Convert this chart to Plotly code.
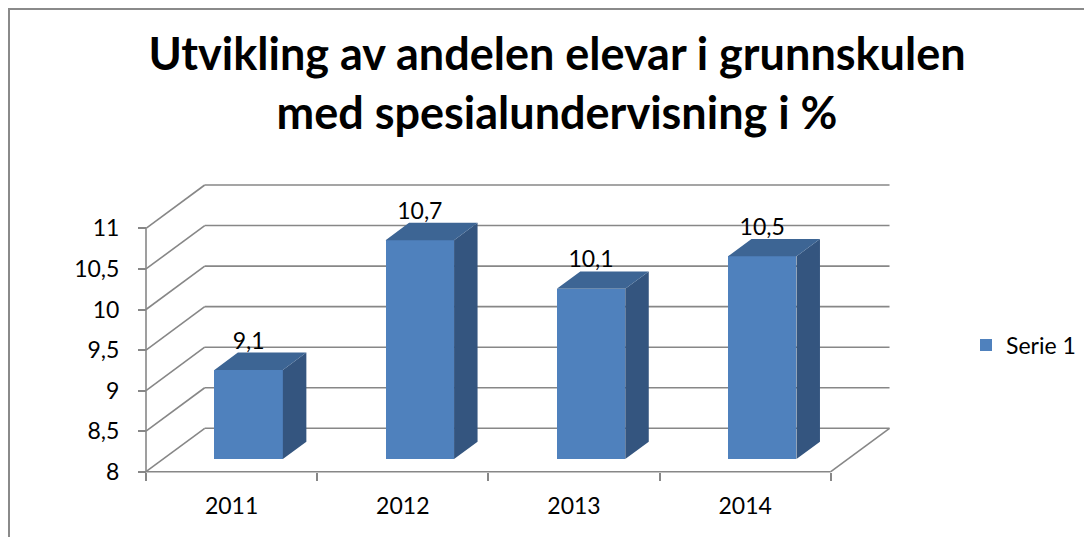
import plotly.graph_objects as go

# ---- data ----
categories = ["2011", "2012", "2013", "2014"]
values = [9.1, 10.7, 10.1, 10.5]
series_name = "Serie 1"
y_ticks = [8, 8.5, 9, 9.5, 10, 10.5, 11]
title_lines = ["Utvikling av andelen elevar i grunnskulen", "med spesialundervisning i %"]

# ---- pseudo-3D projection parameters (axis units) ----
DX, DY = 0.343, 0.535      # full depth offset of the back wall
BAR_W = 0.4                # bar width (category units)
D0, BD = 0.29, 0.40        # bar front depth and bar depth (fractions)
Y0 = y_ticks[0]
n = len(categories)

# ---- layout geometry (figure sits inside the page body's 8px margin) ----
OFF = 8
W, H = 1092 - OFF, 537 - OFF
L, T = 129 - OFF, 176 - OFF
pw, ph = 779, 304
R, B = W - L - pw, H - T - ph
PX_X, PX_Y = 171.2, 81.1            # px per axis unit
X0PX, Y0PX = 146 - OFF, 471.7 - OFF  # pixel of (0, Y0)
xr0 = -(X0PX - L) / PX_X
xr1 = xr0 + pw / PX_X
yr0 = Y0 - ((H - B) - Y0PX) / PX_Y
yr1 = yr0 + ph / PX_Y

GRID = "#878787"
FRONT = "#4F81BD"
TOP = "#3D6594"
SIDE = "#34557F"
FONT = "Lato"
FS = 23

fig = go.Figure()

# front faces
fx = [i + 0.5 + D0 * DX for i in range(n)]
fig.add_trace(go.Bar(
    x=fx, y=[v - Y0 for v in values], base=Y0 + D0 * DY, width=BAR_W,
    marker=dict(color=FRONT, line=dict(width=0)), name=series_name,
    hoverinfo="skip"))

# side and top faces
sx, sy, tx, ty = [], [], [], []
for i, v in enumerate(values):
    xl = fx[i] - BAR_W / 2
    xr = fx[i] + BAR_W / 2
    yb = Y0 + D0 * DY
    yt = v + D0 * DY
    ox, oy = BD * DX, BD * DY
    sx += [xr, xr, xr + ox, xr + ox, xr, None]
    sy += [yb, yt, yt + oy, yb + oy, yb, None]
    tx += [xl, xr, xr + ox, xl + ox, xl, None]
    ty += [yt, yt, yt + oy, yt + oy, yt, None]
fig.add_trace(go.Scatter(x=sx, y=sy, mode="lines", fill="toself", fillcolor=SIDE,
                         line=dict(width=0, color=SIDE), showlegend=False, hoverinfo="skip"))
fig.add_trace(go.Scatter(x=tx, y=ty, mode="lines", fill="toself", fillcolor=TOP,
                         line=dict(width=0, color=TOP), showlegend=False, hoverinfo="skip"))

# data labels
fig.add_trace(go.Scatter(
    x=fx, y=[v + (D0 + BD) * DY + 0.12 for v in values], xaxis="x2",
    mode="text", customdata=values, texttemplate="%{customdata:.1f}",
    textposition="middle center", textfont=dict(family=FONT, size=FS, color="black"),
    showlegend=False, hoverinfo="skip"))

# frame: back wall grid, left side grid, floor
shapes = []
def seg(x0, y0, x1, y1):
    shapes.append(dict(type="line", xref="x", yref="y", x0=x0, y0=y0, x1=x1, y1=y1,
                       line=dict(color=GRID, width=1.6), layer="below"))
for v in y_ticks:
    seg(DX, v + DY, n + DX, v + DY)
    seg(0, v, DX, v + DY)
seg(0, Y0, n, Y0)
seg(n, Y0, n + DX, Y0 + DY)
seg(0, Y0, 0, y_ticks[-1])

# outer chart border (left and top edges)
shapes.append(dict(type="rect", xref="paper", yref="paper",
                   x0=(1 - L) / pw, x1=(W + 20 - L) / pw,
                   y0=((H - B) - (H + 20)) / ph, y1=((H - B) - 1) / ph,
                   line=dict(color="#8a8a8a", width=2), layer="below"))

xpos = (Y0 - yr0) / (yr1 - yr0)
ypos = (0 - xr0) / (xr1 - xr0)

fig.update_layout(
    width=W, height=H, margin=dict(l=L, r=R, t=T, b=B, pad=0, autoexpand=False),
    paper_bgcolor="white", plot_bgcolor="white", separators=",.",
    font=dict(family=FONT, size=FS, color="black"),
    title=dict(text="<b>" + "<br>".join(title_lines) + "</b>",
               x=(557 - OFF) / W, xanchor="center", xref="container",
               y=1 - 62 / H, yanchor="top", yref="container",
               font=dict(family=FONT, size=45, color="black")),
    shapes=shapes,
    bargap=0,
    xaxis=dict(range=[xr0, xr1], anchor="free", position=xpos,
               tickvals=list(range(n + 1)), ticktext=[""] * (n + 1),
               ticks="outside", ticklen=8, tickcolor=GRID, tickwidth=1.6,
               showgrid=False, zeroline=False, showline=False, fixedrange=True),
    xaxis2=dict(range=[xr0, xr1], overlaying="x", anchor="free", position=xpos,
                side="bottom",
                tickvals=[i + 0.5 for i in range(n)], ticktext=categories,
                ticks="", ticklabelstandoff=18, tickfont=dict(family=FONT, size=FS),
                showgrid=False, zeroline=False, showline=False, fixedrange=True),
    yaxis=dict(range=[yr0, yr1], anchor="free", position=ypos,
               tickvals=y_ticks, ticks="outside", ticklen=8, tickcolor=GRID, tickwidth=1.6,
               ticklabelstandoff=14, tickfont=dict(family=FONT, size=FS),
               showgrid=False, zeroline=False, showline=False, fixedrange=True),
    legend=dict(x=(966 - OFF - L) / pw, xanchor="left", y=((H - B) - (345 - OFF)) / ph,
                yanchor="middle", font=dict(family=FONT, size=FS), bgcolor="rgba(0,0,0,0)"),
    showlegend=True,
)

fig.write_html("out.html")
